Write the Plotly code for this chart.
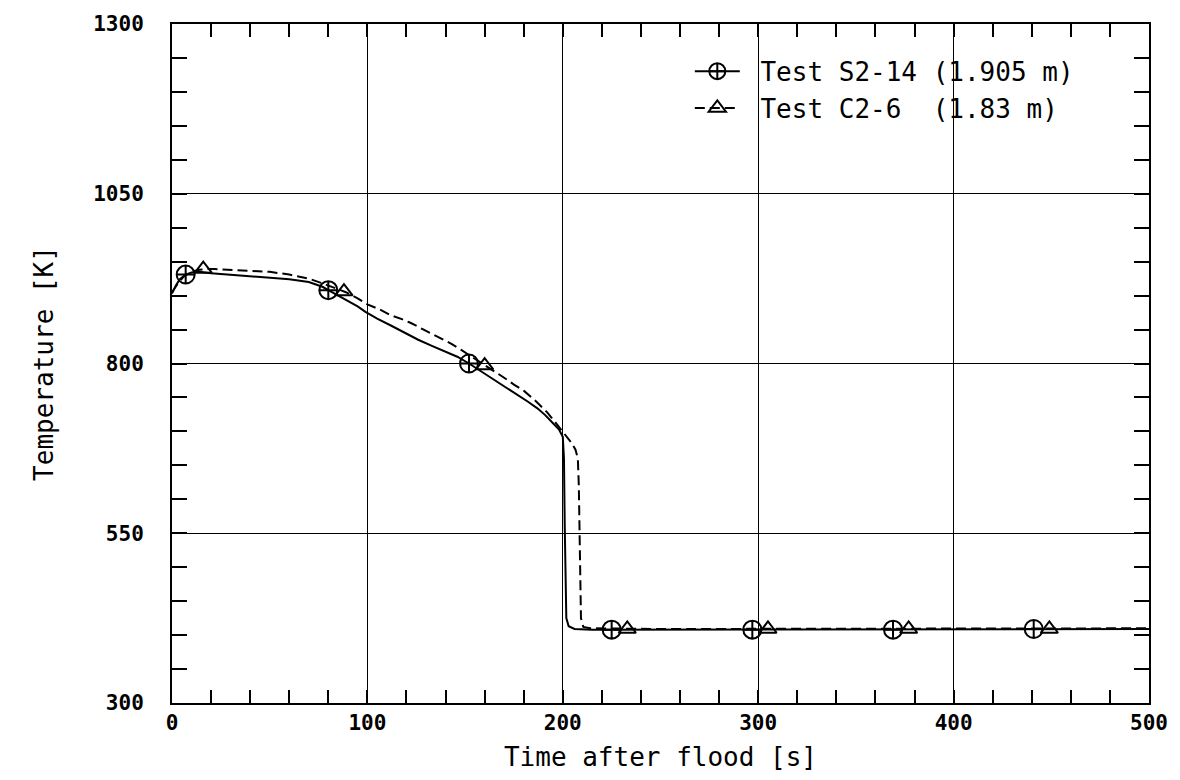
import plotly.graph_objects as go

# ---- data ----
s2_t = [0, 2, 4, 7, 10, 14, 20, 30, 40, 50, 60, 70, 77, 80, 85, 90, 95, 99, 105, 112,
        119, 126, 133, 140, 146, 152, 158, 163, 170, 176, 182, 187, 191, 195, 198, 200,
        200.6, 201, 201.3, 201.8, 203, 206, 215, 250, 280, 320, 360, 400, 440, 470, 500]
s2_T = [903, 915, 924, 931, 934, 935, 933, 931, 929, 927, 924, 920, 913, 908, 900, 893, 884, 876, 866, 856,
        845, 835, 826, 817, 810, 800, 789, 780, 766, 755, 744, 734, 724, 712, 703, 692,
        660, 560, 470, 425, 413, 409, 408, 408, 409, 408, 408, 409, 409, 408, 409]

c2_t = [0, 3, 6, 10, 14, 17, 22, 30, 40, 50, 60, 70, 78, 84, 89, 95, 100, 106, 112, 118,
        122, 128, 133, 138, 143, 148, 154, 160, 165, 170, 175, 180, 186, 192, 196, 199.5,
        202, 204.5, 206.5, 207.7, 208.2, 208.5, 208.8, 209.3, 210.5, 214, 250, 300, 350, 400, 450, 500]
c2_T = [905, 918, 928, 935, 938, 939, 939, 938, 937, 935, 931, 925, 917, 911, 905, 896, 887, 880, 871, 865,
        860, 851, 844, 837, 829, 820, 809, 797, 788, 779, 769, 760, 745, 728, 714, 701,
        692, 683, 673, 660, 620, 540, 470, 425, 412, 410, 409, 409, 409, 410, 409, 410]

s2_mark_t = [7, 80, 152, 225, 297, 369, 441]
s2_mark_T = [931, 908, 800, 408, 408, 408, 409]
c2_mark_t = [16, 88, 160, 233, 305, 377, 449]
c2_mark_T = [939, 906, 797, 409, 409, 409, 409]

x_ticks = [0, 100, 200, 300, 400, 500]
y_ticks = [300, 550, 800, 1050, 1300]

names = ["Test S2-14 (1.905 m)", "Test C2-6  (1.83 m)"]

TXT = "DejaVu Sans Mono"
DASH = "10px,5px"

fig = go.Figure()

# curves
fig.add_trace(go.Scatter(x=s2_t, y=s2_T, mode="lines", showlegend=False,
                         line=dict(color="black", width=2)))
fig.add_trace(go.Scatter(x=c2_t, y=c2_T, mode="lines", showlegend=False,
                         line=dict(color="black", width=2, dash=DASH)))
# markers
fig.add_trace(go.Scatter(x=s2_mark_t, y=s2_mark_T, mode="markers", showlegend=False,
                         marker=dict(symbol="circle-cross-open", size=18, color="black",
                                     line=dict(color="black", width=2))))
fig.add_trace(go.Scatter(x=c2_mark_t, y=c2_mark_T, mode="markers", showlegend=False,
                         marker=dict(symbol="triangle-up-open", size=15, color="black",
                                     line=dict(color="black", width=2))))
# legend entries (leading space gives the gap between symbol and text)
fig.add_trace(go.Scatter(x=[None], y=[None], mode="lines+markers", name="\u00a0" + names[0],
                         line=dict(color="black", width=2),
                         marker=dict(symbol="circle-cross-open", size=18, color="black",
                                     line=dict(color="black", width=2))))
fig.add_trace(go.Scatter(x=[None], y=[None], mode="lines+markers", name="\u00a0" + names[1],
                         line=dict(color="black", width=2, dash=DASH),
                         marker=dict(symbol="triangle-up-open", size=15, color="black",
                                     line=dict(color="black", width=2))))

# white patch behind legend hiding gridlines
fig.add_shape(type="rect", xref="paper", yref="paper", x0=0.53, x1=0.95, y0=0.8, y1=1.0,
              fillcolor="white", line=dict(width=0), layer="between")

fig.update_layout(
    width=1180, height=780,
    margin=dict(l=172, r=25, t=20, b=77),
    paper_bgcolor="white", plot_bgcolor="white",
    font=dict(family=TXT, color="black", size=21),
    legend=dict(x=0.53, y=0.965, xanchor="left", yanchor="top",
                bgcolor="rgba(0,0,0,0)", borderwidth=0,
                font=dict(family=TXT, size=26), itemwidth=45,
                tracegroupgap=4),
)

fig.update_xaxes(
    range=[0, 500], tickvals=x_ticks, ticktext=[str(v) for v in x_ticks],
    showline=True, linecolor="black", linewidth=2, mirror="ticks",
    ticks="inside", ticklen=13, tickwidth=1.5, tickcolor="black",
    showgrid=True, gridcolor="black", gridwidth=1,
    zeroline=False,
    minor=dict(dtick=20, ticks="inside", ticklen=13, tickwidth=1.5, tickcolor="black", showgrid=False),
    tickfont=dict(family=TXT, size=21, weight="bold"),
    title=dict(text="Time after flood [s]", font=dict(family=TXT, size=26), standoff=14),
)
fig.update_yaxes(
    range=[300, 1300], tickvals=y_ticks, ticktext=[str(v) for v in y_ticks],
    showline=True, linecolor="black", linewidth=2, mirror="ticks",
    ticks="inside", ticklen=15, tickwidth=1.5, tickcolor="black",
    showgrid=True, gridcolor="black", gridwidth=1,
    zeroline=False,
    minor=dict(dtick=50, ticks="inside", ticklen=15, tickwidth=1.5, tickcolor="black", showgrid=False),
    tickfont=dict(family=TXT, size=21, weight="bold"),
    ticklabelstandoff=22,
    title=dict(text="Temperature [K]", font=dict(family=TXT, size=26), standoff=32),
)

fig.write_html("out.html")
